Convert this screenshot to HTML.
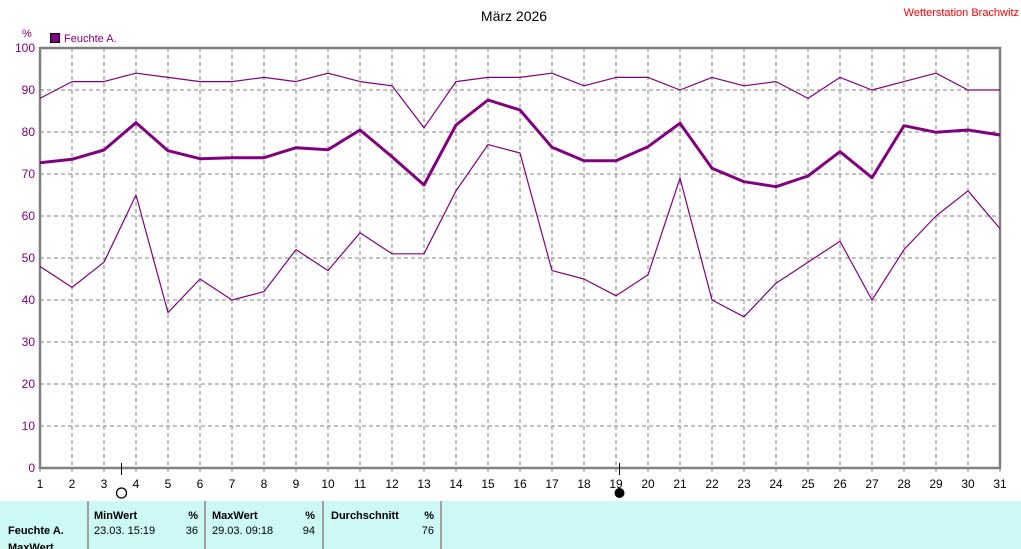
<!DOCTYPE html>
<html><head><meta charset="utf-8"><style>
html,body{margin:0;padding:0;background:#fff;}
svg{display:block;}
text{font-family:"Liberation Sans",sans-serif;}
</style></head><body>
<svg width="1021" height="549" viewBox="0 0 1021 549" xmlns="http://www.w3.org/2000/svg">
<rect x="0" y="0" width="1021" height="549" fill="#fff"/>
<text x="514" y="21" font-size="14" text-anchor="middle" fill="#000">März 2026</text>
<text x="1019" y="16" font-size="11" text-anchor="end" fill="#ff0000">Wetterstation Brachwitz</text>
<text x="22" y="37" font-size="11" fill="#800080">%</text>
<rect x="50.5" y="33.5" width="9" height="9" fill="#800080" stroke="#000" stroke-width="1"/>
<text x="64" y="42" font-size="11" fill="#800080">Feuchte A.</text>
<g stroke="#808080" stroke-width="1" stroke-dasharray="4,3" fill="none">
<line x1="40" y1="90" x2="1000" y2="90"/><line x1="40" y1="132" x2="1000" y2="132"/><line x1="40" y1="174" x2="1000" y2="174"/><line x1="40" y1="216" x2="1000" y2="216"/><line x1="40" y1="258" x2="1000" y2="258"/><line x1="40" y1="300" x2="1000" y2="300"/><line x1="40" y1="342" x2="1000" y2="342"/><line x1="40" y1="384" x2="1000" y2="384"/><line x1="40" y1="426" x2="1000" y2="426"/>
<line x1="72" y1="48" x2="72" y2="468"/><line x1="104" y1="48" x2="104" y2="468"/><line x1="136" y1="48" x2="136" y2="468"/><line x1="168" y1="48" x2="168" y2="468"/><line x1="200" y1="48" x2="200" y2="468"/><line x1="232" y1="48" x2="232" y2="468"/><line x1="264" y1="48" x2="264" y2="468"/><line x1="296" y1="48" x2="296" y2="468"/><line x1="328" y1="48" x2="328" y2="468"/><line x1="360" y1="48" x2="360" y2="468"/><line x1="392" y1="48" x2="392" y2="468"/><line x1="424" y1="48" x2="424" y2="468"/><line x1="456" y1="48" x2="456" y2="468"/><line x1="488" y1="48" x2="488" y2="468"/><line x1="520" y1="48" x2="520" y2="468"/><line x1="552" y1="48" x2="552" y2="468"/><line x1="584" y1="48" x2="584" y2="468"/><line x1="616" y1="48" x2="616" y2="468"/><line x1="648" y1="48" x2="648" y2="468"/><line x1="680" y1="48" x2="680" y2="468"/><line x1="712" y1="48" x2="712" y2="468"/><line x1="744" y1="48" x2="744" y2="468"/><line x1="776" y1="48" x2="776" y2="468"/><line x1="808" y1="48" x2="808" y2="468"/><line x1="840" y1="48" x2="840" y2="468"/><line x1="872" y1="48" x2="872" y2="468"/><line x1="904" y1="48" x2="904" y2="468"/><line x1="936" y1="48" x2="936" y2="468"/><line x1="968" y1="48" x2="968" y2="468"/>
</g>
<g stroke="#808080" stroke-width="1">
<line x1="40" y1="468" x2="40" y2="472"/><line x1="72" y1="468" x2="72" y2="472"/><line x1="104" y1="468" x2="104" y2="472"/><line x1="136" y1="468" x2="136" y2="472"/><line x1="168" y1="468" x2="168" y2="472"/><line x1="200" y1="468" x2="200" y2="472"/><line x1="232" y1="468" x2="232" y2="472"/><line x1="264" y1="468" x2="264" y2="472"/><line x1="296" y1="468" x2="296" y2="472"/><line x1="328" y1="468" x2="328" y2="472"/><line x1="360" y1="468" x2="360" y2="472"/><line x1="392" y1="468" x2="392" y2="472"/><line x1="424" y1="468" x2="424" y2="472"/><line x1="456" y1="468" x2="456" y2="472"/><line x1="488" y1="468" x2="488" y2="472"/><line x1="520" y1="468" x2="520" y2="472"/><line x1="552" y1="468" x2="552" y2="472"/><line x1="584" y1="468" x2="584" y2="472"/><line x1="616" y1="468" x2="616" y2="472"/><line x1="648" y1="468" x2="648" y2="472"/><line x1="680" y1="468" x2="680" y2="472"/><line x1="712" y1="468" x2="712" y2="472"/><line x1="744" y1="468" x2="744" y2="472"/><line x1="776" y1="468" x2="776" y2="472"/><line x1="808" y1="468" x2="808" y2="472"/><line x1="840" y1="468" x2="840" y2="472"/><line x1="872" y1="468" x2="872" y2="472"/><line x1="904" y1="468" x2="904" y2="472"/><line x1="936" y1="468" x2="936" y2="472"/><line x1="968" y1="468" x2="968" y2="472"/><line x1="1000" y1="468" x2="1000" y2="472"/>
</g>
<g fill="none" stroke="#808080" stroke-width="2.5">
<polyline points="40,48 1000,48 1000,468"/>
<line x1="40" y1="47" x2="40" y2="469"/>
<line x1="39" y1="468" x2="1001" y2="468"/>
</g>
<g font-size="12" fill="#800080" text-anchor="end">
<text x="35" y="52">100</text><text x="35" y="94">90</text><text x="35" y="136">80</text><text x="35" y="178">70</text><text x="35" y="220">60</text><text x="35" y="262">50</text><text x="35" y="304">40</text><text x="35" y="346">30</text><text x="35" y="388">20</text><text x="35" y="430">10</text><text x="35" y="472">0</text>
</g>
<g font-size="12" fill="#000" text-anchor="middle">
<text x="40" y="488">1</text><text x="72" y="488">2</text><text x="104" y="488">3</text><text x="136" y="488">4</text><text x="168" y="488">5</text><text x="200" y="488">6</text><text x="232" y="488">7</text><text x="264" y="488">8</text><text x="296" y="488">9</text><text x="328" y="488">10</text><text x="360" y="488">11</text><text x="392" y="488">12</text><text x="424" y="488">13</text><text x="456" y="488">14</text><text x="488" y="488">15</text><text x="520" y="488">16</text><text x="552" y="488">17</text><text x="584" y="488">18</text><text x="616" y="488">19</text><text x="648" y="488">20</text><text x="680" y="488">21</text><text x="712" y="488">22</text><text x="744" y="488">23</text><text x="776" y="488">24</text><text x="808" y="488">25</text><text x="840" y="488">26</text><text x="872" y="488">27</text><text x="904" y="488">28</text><text x="936" y="488">29</text><text x="968" y="488">30</text><text x="1000" y="488">31</text>
</g>
<g fill="none" stroke="#800080" stroke-linejoin="round">
<polyline stroke-width="1.2" points="40,98.4 72,81.6 104,81.6 136,73.2 168,77.4 200,81.6 232,81.6 264,77.4 296,81.6 328,73.2 360,81.6 392,85.8 424,127.8 456,81.6 488,77.4 520,77.4 552,73.2 584,85.8 616,77.4 648,77.4 680,90 712,77.4 744,85.8 776,81.6 808,98.4 840,77.4 872,90 904,81.6 936,73.2 968,90 1000,90"/>
<polyline stroke-width="3" points="40,162.7 72,159.3 104,150 136,122.7 168,150.7 200,158.7 232,157.7 264,157.7 296,147.7 328,149.7 360,130 392,156.7 424,185 456,125 488,100 520,110 552,147.3 584,160.7 616,160.7 648,146.7 680,123.3 712,168.3 744,181.7 776,186.7 808,176 840,151.7 872,177.7 904,125.7 936,132.3 968,130 1000,135"/>
<polyline stroke-width="1.2" points="40,266.4 72,287.4 104,262.2 136,195 168,312.6 200,279 232,300 264,291.6 296,249.6 328,270.6 360,232.8 392,253.8 424,253.8 456,190.8 488,144.6 520,153 552,270.6 584,279 616,295.8 648,274.8 680,178.2 712,300 744,316.8 776,283.2 808,262.2 840,241.2 872,300 904,249.6 936,216 968,190.8 1000,228.6"/>
</g>
<line x1="121.5" y1="463" x2="121.5" y2="475" stroke="#000" stroke-width="1"/>
<circle cx="121.5" cy="493" r="5" fill="none" stroke="#000" stroke-width="1.3"/>
<line x1="619.5" y1="463" x2="619.5" y2="475" stroke="#000" stroke-width="1"/>
<circle cx="619.5" cy="493" r="4.5" fill="#000" stroke="#000" stroke-width="1"/>
<rect x="0" y="501" width="1021" height="48" fill="#ccf8f5"/>
<g stroke="#a0a0a0" stroke-width="2">
<line x1="88" y1="501" x2="88" y2="549"/><line x1="205" y1="501" x2="205" y2="549"/><line x1="323" y1="501" x2="323" y2="549"/><line x1="441" y1="501" x2="441" y2="549"/>
</g>
<g font-size="11" fill="#000">
<text x="8" y="534" font-weight="bold">Feuchte A.</text>
<text x="8" y="551" font-weight="bold">MaxWert</text>
<text x="94" y="519" font-weight="bold">MinWert</text>
<text x="198" y="519" font-weight="bold" text-anchor="end">%</text>
<text x="94" y="534">23.03.  15:19</text>
<text x="198" y="534" text-anchor="end">36</text>
<text x="212" y="519" font-weight="bold">MaxWert</text>
<text x="315" y="519" font-weight="bold" text-anchor="end">%</text>
<text x="212" y="534">29.03.  09:18</text>
<text x="315" y="534" text-anchor="end">94</text>
<text x="331" y="519" font-weight="bold">Durchschnitt</text>
<text x="434" y="519" font-weight="bold" text-anchor="end">%</text>
<text x="434" y="534" text-anchor="end">76</text>
</g>
</svg>
</body></html>
